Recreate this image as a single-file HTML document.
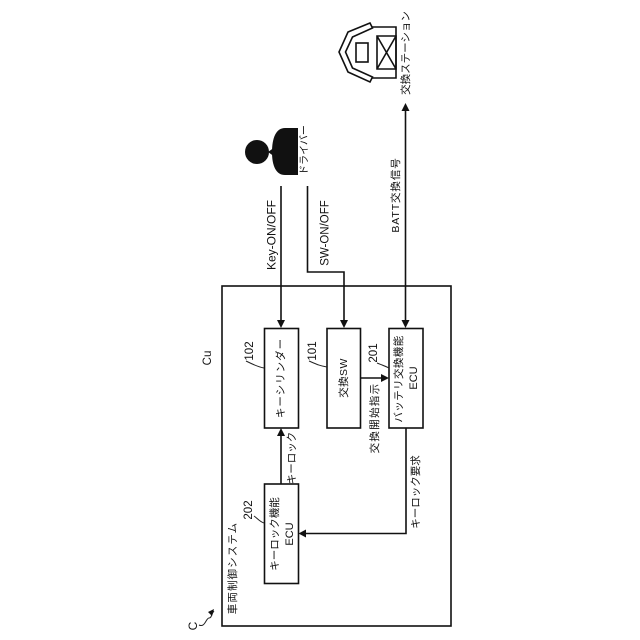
<!DOCTYPE html>
<html><head><meta charset="utf-8"><style>
html,body{margin:0;padding:0;background:#fff}
svg{display:block}
text{font-family:"Liberation Sans","Noto Sans CJK JP",sans-serif;fill:#111;text-anchor:middle;dominant-baseline:central}
</style></head><body>
<svg width="640" height="640" viewBox="0 0 640 640" xmlns="http://www.w3.org/2000/svg">
<g fill="none" stroke="#111" stroke-width="1.6">
<rect x="222" y="286" width="229" height="340"/>
<rect x="264.5" y="328.5" width="34" height="99.5" fill="#fff"/>
<rect x="327" y="328.5" width="33.5" height="99.5" fill="#fff"/>
<rect x="389" y="328.5" width="34" height="99.5" fill="#fff"/>
<rect x="264.5" y="484" width="34" height="99.5" fill="#fff"/>
<path d="M281 186V322"/>
<path d="M307.500 186V272H344V322"/>
<path d="M405.500 110V322"/>
<path d="M360 378H383"/>
<path d="M281 484V434"/>
<path d="M406 428V533.500H305"/>
<!-- station -->
<path d="M371 27H396V78H371"/>
<path d="M370 23L348 32L339 52L348 72L370 82L372.500 77L352.500 68L345.500 52L352.500 37L372.500 28Z" fill="#fff"/>
<rect x="356" y="43" width="12" height="19"/>
<path d="M377 36H396V69H377ZM377 36L396 69M396 36L377 69"/>
</g>
<g fill="#111">
<polygon points="281,328 277,320 285,320"/>
<polygon points="344,328 340,320 348,320"/>
<polygon points="405.500,328 401.500,320 409.500,320"/>
<polygon points="405.500,103 401.500,111 409.500,111"/>
<polygon points="389,378 381,374 381,382"/>
<polygon points="281,428 277,436 285,436"/>
<polygon points="298.500,533.500 306,529.500 306,537.500"/>
<circle cx="257" cy="152" r="12"/>
<path d="M298 128H285C276 128 272 138 272 152C272 166 276 175 285 175H298Z"/>
<polygon points="268,152 275,147 275,157"/>
</g>
<text transform="translate(271.500,235) rotate(-90)" font-size="12">Key-ON/OFF</text>
<text transform="translate(325.500,233) rotate(-90)" font-size="11.500">SW-ON/OFF</text>
<text transform="translate(305,150) rotate(-90)" font-size="10">ドライバー</text>
<text transform="translate(406,53) rotate(-90)" font-size="10.500">交換ステーション</text>
<text transform="translate(396,195) rotate(-90)" font-size="10.500" letter-spacing="0.9">BATT交換信号</text>
<text transform="translate(281,378) rotate(-90)" font-size="10.500" letter-spacing="1">キーシリンダー</text>
<text transform="translate(344,378) rotate(-90)" font-size="10.500" letter-spacing="0.4">交換SW</text>
<text transform="translate(399,379) rotate(-90)" font-size="10.500" letter-spacing="0.4">バッテリ交換機能</text>
<text transform="translate(414,378) rotate(-90)" font-size="11">ECU</text>
<text transform="translate(375,418) rotate(-90)" font-size="10.500" letter-spacing="1.300">交換開始指示</text>
<text transform="translate(292,458) rotate(-90)" font-size="10.500">キーロック</text>
<text transform="translate(416,492) rotate(-90)" font-size="10.500">キーロック要求</text>
<text transform="translate(275,534) rotate(-90)" font-size="10.500">キーロック機能</text>
<text transform="translate(290,534) rotate(-90)" font-size="11">ECU</text>
<text transform="translate(233,568) rotate(-90)" font-size="10.500" letter-spacing="1.100">車両制御システム</text>
<text transform="translate(250,351) rotate(-90)" font-size="11.500">102</text>
<text transform="translate(313,351) rotate(-90)" font-size="11.500">101</text>
<text transform="translate(374,353) rotate(-90)" font-size="11.500">201</text>
<text transform="translate(249,510) rotate(-90)" font-size="11.500">202</text>
<text transform="translate(208,358) rotate(-90)" font-size="11.500">Cu</text>
<text transform="translate(193,626) rotate(-90)" font-size="12">C</text>
<g fill="none" stroke="#222" stroke-width="1">
<path d="M246 361C252 364 258 367 264 368"/>
<path d="M309 361C316 364 320 366 327 367"/>
<path d="M377 363C382 365 385 366 389 368"/>
<path d="M254 516C257 518 260 522 264 523"/>
<path d="M199 625C205 628 206 618 209 618C212 618 211 614 214 611"/>
</g>
<polygon points="214,609 208,612 212,616" fill="#111"/>
</svg>
</body></html>
